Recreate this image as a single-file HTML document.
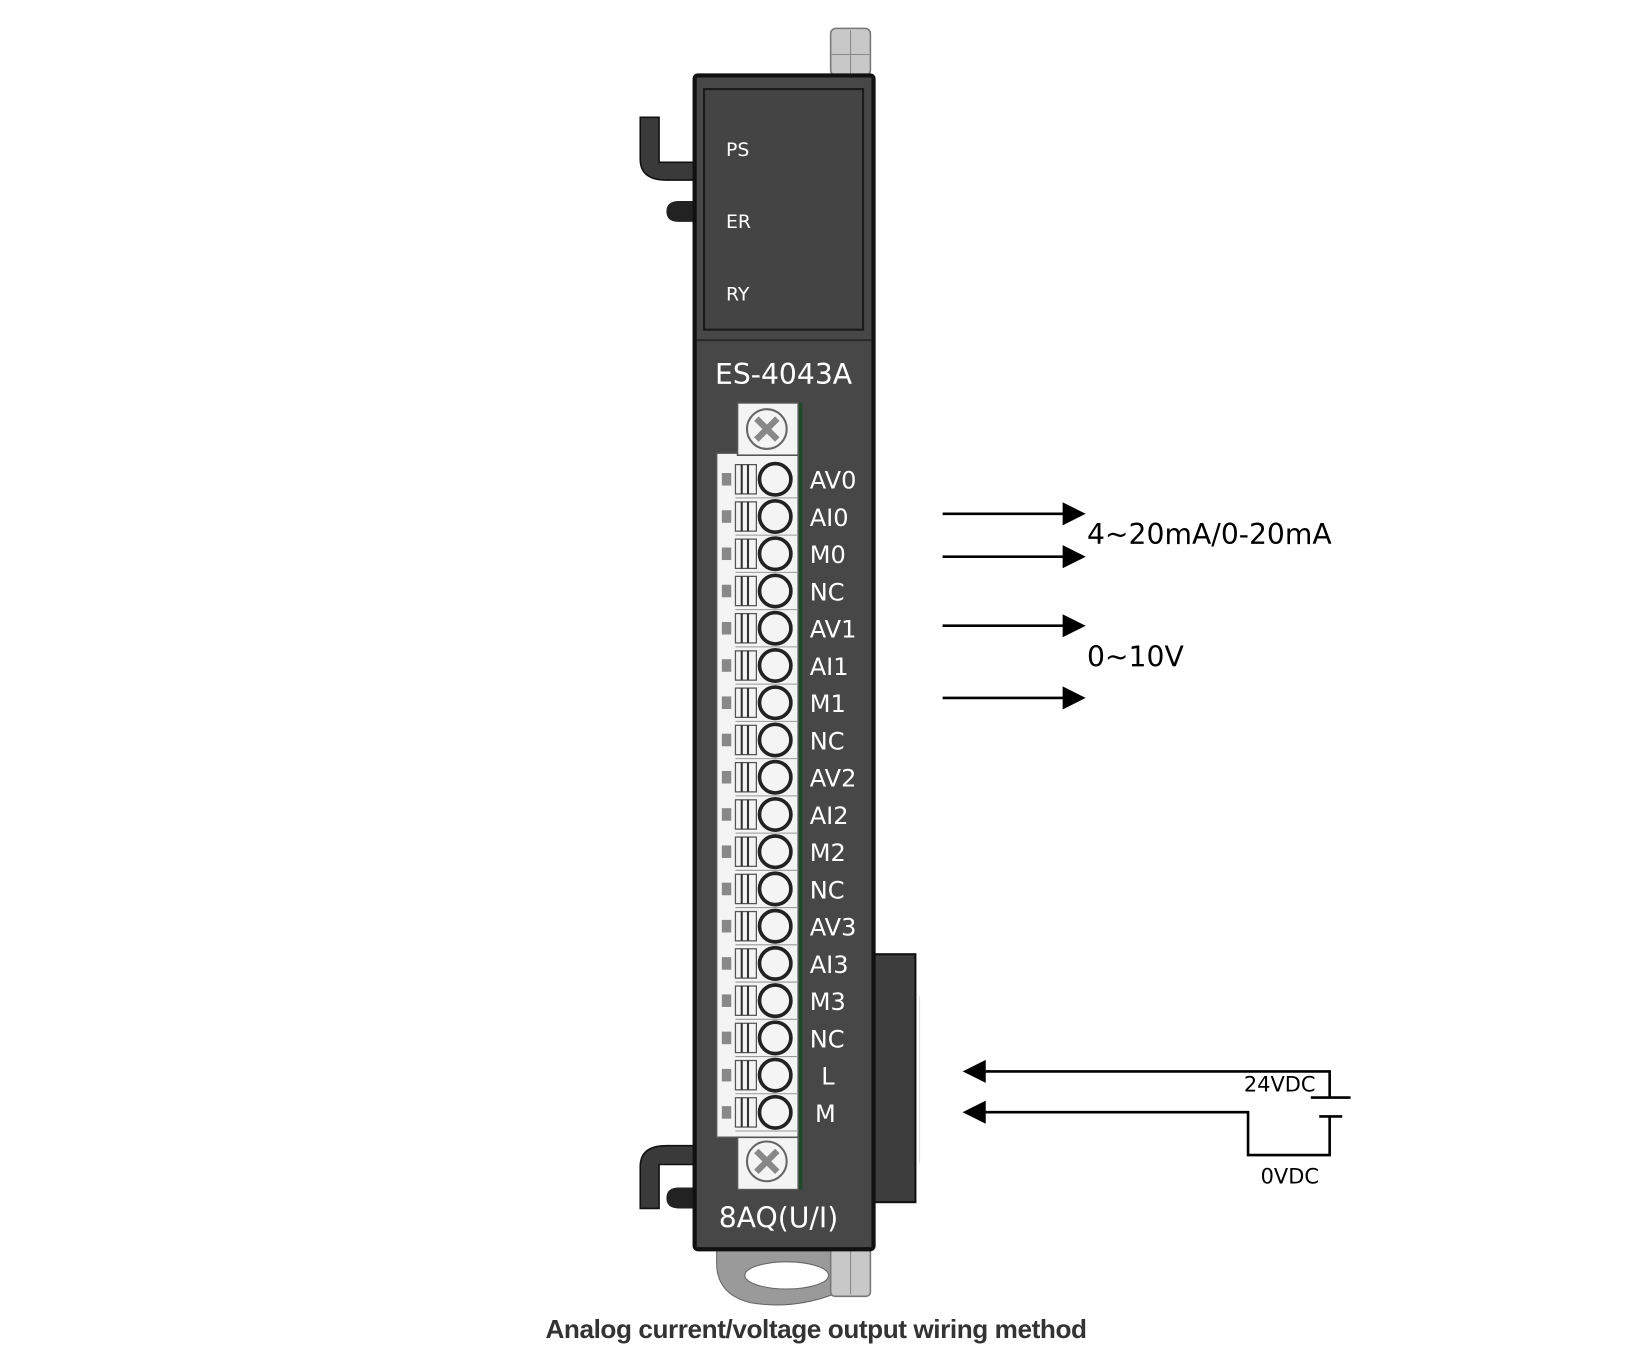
<!DOCTYPE html>
<html><head><meta charset="utf-8"><style>
html,body{margin:0;padding:0;background:#fff;width:1632px;height:1354px;overflow:hidden}
svg{display:block}
text{font-family:"DejaVu Sans","Liberation Sans",sans-serif}
</style></head><body>
<svg width="1632" height="1354" viewBox="0 0 1560 1294" xmlns="http://www.w3.org/2000/svg">
<g transform="translate(-3,-3)">
<rect x="797" y="30" width="38" height="45" rx="5" fill="#c8c8c8" stroke="#777" stroke-width="1.5"/>
<line x1="816" y1="32" x2="816" y2="73" stroke="#888"/>
<line x1="798" y1="55" x2="834" y2="55" stroke="#888"/>
<path d="M615 115 H633 V158 H668 V175 H640 Q615 175 615 155 Z" fill="#3a3a3a" stroke="#111" stroke-width="1.5"/>
<path d="M668 195 H652 Q640 195 640 205 Q640 215 652 215 H668 Z" fill="#222"/>
<path d="M615 1158 H633 V1116 H668 V1098 H640 Q615 1098 615 1118 Z" fill="#3a3a3a" stroke="#111" stroke-width="1.5"/>
<path d="M668 1138 H652 Q640 1138 640 1148 Q640 1158 652 1158 H668 Z" fill="#222"/>
<rect x="836" y="915" width="42" height="237" fill="#3d3d3d" stroke="#111" stroke-width="2"/>
<line x1="882" y1="955" x2="882" y2="1115" stroke="#ddd"/>
<path d="M688 1195 H800 V1240 Q760 1255 720 1248 Q688 1240 688 1210 Z" fill="#9a9a9a" stroke="#666"/>
<ellipse cx="755" cy="1222" rx="40" ry="13" fill="#fff" stroke="#666"/>
<rect x="797" y="1195" width="38" height="47" rx="4" fill="#c8c8c8" stroke="#777" stroke-width="1.5"/>
<line x1="816" y1="1196" x2="816" y2="1240" stroke="#888"/>
<rect x="667" y="75" width="171" height="1122" rx="3" fill="#474747" stroke="#111" stroke-width="4"/>
<rect x="676" y="88" width="152" height="230" fill="#444" stroke="#1a1a1a" stroke-width="2"/>
<line x1="669" y1="328" x2="836" y2="328" stroke="#2a2a2a" stroke-width="2"/>
<g fill="#fff" font-size="18">
<text x="697" y="152">PS</text><text x="697" y="221">ER</text><text x="697" y="290">RY</text>
</g>
<text x="752" y="370" fill="#fff" font-size="27" text-anchor="middle">ES-4043A</text>
<text x="690" y="1176" fill="#fff" font-size="27">8AQ(U/I)</text>
<rect x="766" y="388" width="4" height="752" fill="#1f4a2a"/>
<rect x="688" y="436" width="78" height="654" fill="#f4f4f4" stroke="#555" stroke-width="1.5"/>
<rect x="708" y="388" width="58" height="50" fill="#f4f4f4" stroke="#555" stroke-width="1.5"/>
<rect x="708" y="1090" width="58" height="50" fill="#f4f4f4" stroke="#555" stroke-width="1.5"/>
<g stroke="#666" stroke-width="2" fill="none">
<circle cx="736" cy="413" r="19"/><path d="M726 403 L746 423 M746 403 L726 423" stroke-width="6" stroke="#888"/>
<circle cx="736" cy="1113" r="19"/><path d="M726 1103 L746 1123 M746 1103 L726 1123" stroke-width="6" stroke="#888"/>
</g>
<g id="rows"></g>
<g stroke="#000" stroke-width="2.5" fill="#000">
<line x1="904" y1="494" x2="1022" y2="494"/><polygon points="1038,494 1020,485 1020,503"/>
<line x1="904" y1="535" x2="1022" y2="535"/><polygon points="1038,535 1020,526 1020,544"/>
<line x1="904" y1="601" x2="1022" y2="601"/><polygon points="1038,601 1020,592 1020,610"/>
<line x1="904" y1="670" x2="1022" y2="670"/><polygon points="1038,670 1020,661 1020,679"/>
<polyline points="942,1027 1274,1027 1274,1052" fill="none"/>
<polygon points="926,1027 944,1018 944,1036"/>
<line x1="1256" y1="1052" x2="1294" y2="1052"/>
<line x1="1264" y1="1070" x2="1286" y2="1070"/>
<polyline points="942,1066 1196,1066 1196,1107 1274,1107 1274,1070" fill="none"/>
<polygon points="926,1066 944,1057 944,1075"/>
</g>
<text x="1042" y="523" font-size="27">4~20mA/0-20mA</text>
<text x="1042" y="640" font-size="27">0~10V</text>
<text x="1192" y="1046" font-size="20">24VDC</text>
<text x="1208" y="1134" font-size="20">0VDC</text>
<g id="labels" fill="#fff" font-size="23"></g>
</g>
<text x="780" y="1279" font-size="25" font-weight="bold" text-anchor="middle" fill="#333" letter-spacing="-0.4" style="font-family:'Liberation Sans',sans-serif">Analog current/voltage output wiring method</text>
</svg>
<script>
var labs=["AV0","AI0","M0","NC","AV1","AI1","M1","NC","AV2","AI2","M2","NC","AV3","AI3","M3","NC","L","M"];
var ns="http://www.w3.org/2000/svg",rows=document.getElementById("rows"),lg=document.getElementById("labels");
labs.forEach(function(t,i){var y=461+i*35.6;
function el(n,a,p){var e=document.createElementNS(ns,n);for(var k in a)e.setAttribute(k,a[k]);(p||rows).appendChild(e);return e;}
el("rect",{x:693,y:y-6,width:9,height:12,fill:"#888"});
el("rect",{x:706,y:y-14,width:20,height:28,fill:"none",stroke:"#555","stroke-width":1.2});
el("line",{x1:712,y1:y-14,x2:712,y2:y+14,stroke:"#333","stroke-width":2});
el("line",{x1:718,y1:y-14,x2:718,y2:y+14,stroke:"#333","stroke-width":2});
el("line",{x1:706,y1:y+17.8,x2:766,y2:y+17.8,stroke:"#999","stroke-width":1});
el("circle",{cx:744,cy:y,r:15,fill:"#f4f4f4",stroke:"#222","stroke-width":3.5});
var tx=el("text",{x:(t=="L"?788:(t=="M"?782:777)),y:y+9},lg);tx.textContent=t;});
</script>
</body></html>
